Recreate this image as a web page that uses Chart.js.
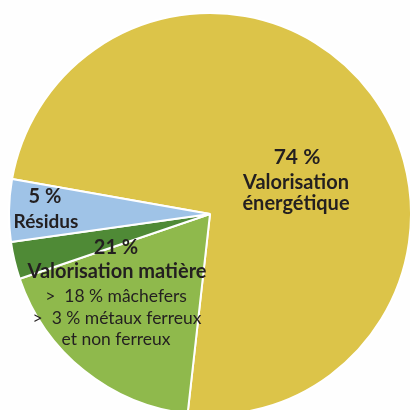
<!DOCTYPE html>
<html lang="fr">
<head>
    <meta charset="UTF-8">
    <title>Valorisation des déchets</title>
    <script src="https://cdn.jsdelivr.net/npm/chart.js"></script>
    <style>
        html, body {
            margin: 0;
            padding: 0;
            width: 410px;
            height: 410px;
            overflow: hidden;
            background: #fefefe;
        }
        .chart-box {
            position: absolute;
            left: 8px;
            top: 12px;
            width: 404px;
            height: 404px;
        }
    </style>
</head>
<body>
    <div class="chart-box">
        <canvas id="pieChart"></canvas>
    </div>

    <script>
        // Slices, clockwise from the blue/yellow boundary
        const categories = ['Valorisation énergétique', 'Mâchefers', 'Métaux ferreux et non ferreux', 'Résidus'];
        const values = [74, 18, 3, 5];
        const colors = ['#dcc449', '#8fb94c', '#4f8a36', '#9fc3e7'];

        // Text blocks: [dx, dy from centre, text, size, bold]
        const labelLines = [
            [87, -57, '74 %', 21, true],
            [86, -31, 'Valorisation', 20, true],
            [86, -10, 'énergétique', 20, true],
            [-165, -17, '5 %', 20, true],
            [-164, 8, 'Résidus', 19, true],
            [-94, 34, '21 %', 20, true],
            [-93, 58, 'Valorisation matière', 20, true],
            [-94, 82, '>  18 % mâchefers', 17.5, false],
            [-93, 104, '>  3 % métaux ferreux', 17.5, false],
            [-94, 125, 'et non ferreux', 17.5, false]
        ];

        const labelPlugin = {
            id: 'pieLabels',
            afterDatasetsDraw(chart) {
                const arc = chart.getDatasetMeta(0).data[0];
                const ctx = chart.ctx;
                ctx.save();
                ctx.fillStyle = '#231f20';
                ctx.textAlign = 'center';
                ctx.textBaseline = 'middle';
                labelLines.forEach(([dx, dy, text, size, bold]) => {
                    ctx.font = (bold ? 'bold ' : '') + size + 'px Lato, "Open Sans", sans-serif';
                    ctx.fillText(text, arc.x + dx, arc.y + dy);
                });
                ctx.restore();
            }
        };

        new Chart(document.getElementById('pieChart'), {
            type: 'pie',
            data: {
                labels: categories,
                datasets: [{
                    data: values,
                    backgroundColor: colors,
                    borderColor: '#ffffff',
                    borderWidth: 2
                }]
            },
            options: {
                responsive: true,
                maintainAspectRatio: false,
                animation: false,
                rotation: -80,
                layout: { padding: 0 },
                plugins: {
                    legend: { display: false },
                    tooltip: { enabled: false }
                }
            },
            plugins: [labelPlugin]
        });
    </script>
</body>
</html>
